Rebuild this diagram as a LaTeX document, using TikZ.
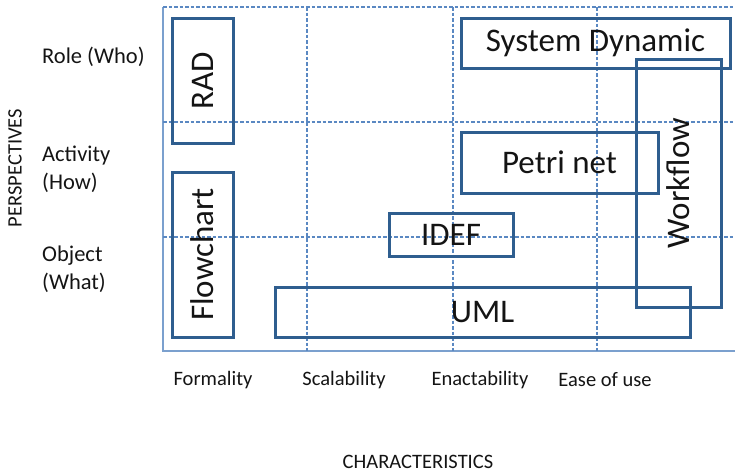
\documentclass[tikz,border=0pt]{standalone}
\usepackage{fontspec}
\setmainfont{Carlito}
\definecolor{boxblue}{HTML}{2F5E8F}
\definecolor{gridblue}{HTML}{5A88C2}
\definecolor{ink}{HTML}{141414}
\begin{document}
\begin{tikzpicture}[x=1pt,y=-1pt,
  gridline/.style={gridblue,line width=1.1pt,dash pattern=on 3.5pt off 2pt},
  frameline/.style={gridblue!80,line width=1.2pt},
  box/.style={draw=boxblue,line width=3pt,inner sep=0pt,text=ink,font=\fontsize{33}{33}\selectfont},
  axislabel/.style={text=ink,font=\fontsize{20.5}{28}\selectfont,inner sep=0pt},
  rowlabel/.style={text=ink,font=\fontsize{22.5}{28}\selectfont,inner sep=0pt,align=left,anchor=west}]
\useasboundingbox (0,0) rectangle (735,475);

% grid of the matrix
\coordinate (tl) at (163,7);
\coordinate (bl) at (163,351);
\coordinate (tr) at (735,7);
\coordinate (br) at (735,351);
\draw[frameline] (tl) -- (bl) -- (br);
\draw[gridline] (tl) -- (tr);
\foreach \x in {307,453,597}
  \draw[gridline] (\x,7) -- (\x,351);
\foreach \y in {122,237}
  \draw[gridline] (163,\y) -- (735,\y);

% perspectives
\node[rowlabel] (role) at (42,57) {Role (Who)};
\node[rowlabel] (act) at (42,169) {Activity\\(How)};
\node[rowlabel] (obj) at (42,269) {Object\\(What)};
\node[axislabel,rotate=90] (persp) at (15,168) {PERSPECTIVES};

% characteristics
\node[axislabel] (form) at (213,380) {Formality};
\node[axislabel] (scal) at (344,380) {Scalability};
\node[axislabel] (enac) at (480,380) {Enactability};
\node[axislabel] (ease) at (605,380) {Ease of use};
\node[axislabel] (chars) at (418,462) {CHARACTERISTICS};

% modelling techniques
\node[box,minimum width=61,minimum height=125] (rad) at (202.5,80.5) {\rotatebox{90}{RAD}};
\node[box,minimum width=61,minimum height=165] (flow) at (202.5,254.5) {\rotatebox{90}{Flowchart}};
\node[box,minimum width=269,minimum height=50] (sd) at (595.5,43) {System Dynamic};
\node[box,minimum width=197,minimum height=61] (petri) at (559.5,162.5) {Petri net};
\node[box,minimum width=124,minimum height=43] (idef) at (451,234.5) {IDEF};
\node[box,minimum width=415,minimum height=50] (uml) at (482.5,312) {UML};
\node[box,minimum width=85,minimum height=248] (wf) at (678.5,183) {\rotatebox{90}{Workflow}};
\end{tikzpicture}
\end{document}
